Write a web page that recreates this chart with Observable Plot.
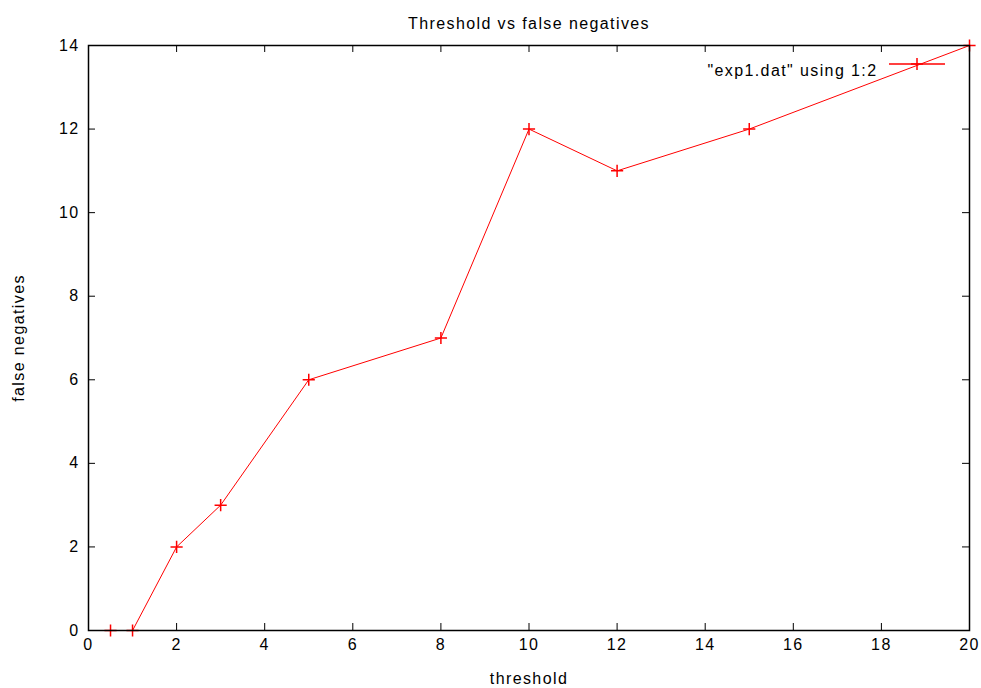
<!DOCTYPE html>
<html>
<head>
<meta charset="utf-8">
<script src="https://cdn.jsdelivr.net/npm/d3@7"></script>
<script src="https://cdn.jsdelivr.net/npm/@observablehq/plot@0.6"></script>
<style>
  html, body { margin: 0; padding: 0; background: #fff; }
  svg { font-family: "Liberation Sans", Arial, sans-serif; }
</style>
</head>
<body>
<div id="chart"></div>
<script>
const thresholds = [0.5, 1, 2, 3, 5, 8, 10, 12, 15, 20];
const falseNegatives = [0, 0, 2, 3, 6, 7, 12, 11, 12, 14];
const xTicks = [0, 2, 4, 6, 8, 10, 12, 14, 16, 18, 20];
const yTicks = [0, 2, 4, 6, 8, 10, 12, 14];
const titleText = "Threshold vs false negatives";
const xLabel = "threshold";
const yLabel = "false negatives";
const seriesLabel = "\"exp1.dat\" using 1:2";

const data = thresholds.map((t, i) => ({x: t, y: falseNegatives[i]}));

const W = 981, H = 688;
const mL = 88, mR = 12, mT = 45, mB = 58;
const fw = W - mL - mR, fh = H - mT - mB;
const tick = 7;

const plot = Plot.plot({
  width: W,
  height: H,
  marginLeft: mL,
  marginRight: mR,
  marginTop: mT,
  marginBottom: mB,
  style: {fontSize: "16px", fontFamily: "'Liberation Sans', Arial, sans-serif", color: "#000", background: "#fff"},
  x: {domain: [0, 20], ticks: xTicks},
  y: {domain: [0, 14], ticks: yTicks},
  marks: [
    Plot.axisX(xTicks, {tickSize: 0, tickPadding: 8, fontSize: 16, label: null}),
    Plot.axisY(yTicks, {tickSize: 0, tickPadding: 9, fontSize: 16, label: null}),
    Plot.tickX(xTicks, {x: d => d, insetTop: fh - tick, stroke: "#000", strokeWidth: 1}),
    Plot.tickX(xTicks, {x: d => d, insetBottom: fh - tick, stroke: "#000", strokeWidth: 1}),
    Plot.tickY(yTicks, {y: d => d, insetRight: fw - tick, stroke: "#000", strokeWidth: 1}),
    Plot.tickY(yTicks, {y: d => d, insetLeft: fw - tick, stroke: "#000", strokeWidth: 1}),
    Plot.line(data, {x: "x", y: "y", stroke: "#ff0000", strokeWidth: 1}),
    Plot.dot(data, {x: "x", y: "y", symbol: "plus", r: 4, stroke: "#ff0000", strokeWidth: 1.5}),
    Plot.frame({stroke: "#000", strokeWidth: 1.5}),
    Plot.text([titleText], {frameAnchor: "top", dy: -28, fontSize: 16, fill: "#000"}),
    Plot.text([xLabel], {frameAnchor: "bottom", dy: 53, fontSize: 16, fill: "#000"}),
    Plot.text([yLabel], {frameAnchor: "left", textAnchor: "middle", dx: -70, rotate: -90, fontSize: 16, fill: "#000"}),
    Plot.text([seriesLabel], {frameAnchor: "top-right", dx: -92, dy: 19, textAnchor: "end", fontSize: 16, fill: "#000"})
  ]
});

// apply gnuplot-like wide letter spacing to all text
d3.select(plot).selectAll("text").style("letter-spacing", "1.4px");

// legend sample line + marker
const svg = d3.select(plot);
const ly = mT + 19;
const lx1 = W - mR - 80, lx2 = W - mR - 24;
svg.append("line").attr("x1", lx1).attr("x2", lx2).attr("y1", ly).attr("y2", ly)
  .attr("stroke", "#ff0000").attr("stroke-width", 1.5);
svg.append("path").attr("transform", `translate(${(lx1 + lx2) / 2},${ly})`)
  .attr("d", d3.symbol(d3.symbolPlus, 50)())
  .attr("fill", "none").attr("stroke", "#ff0000").attr("stroke-width", 1.5);

document.getElementById("chart").appendChild(plot);
</script>
</body>
</html>
